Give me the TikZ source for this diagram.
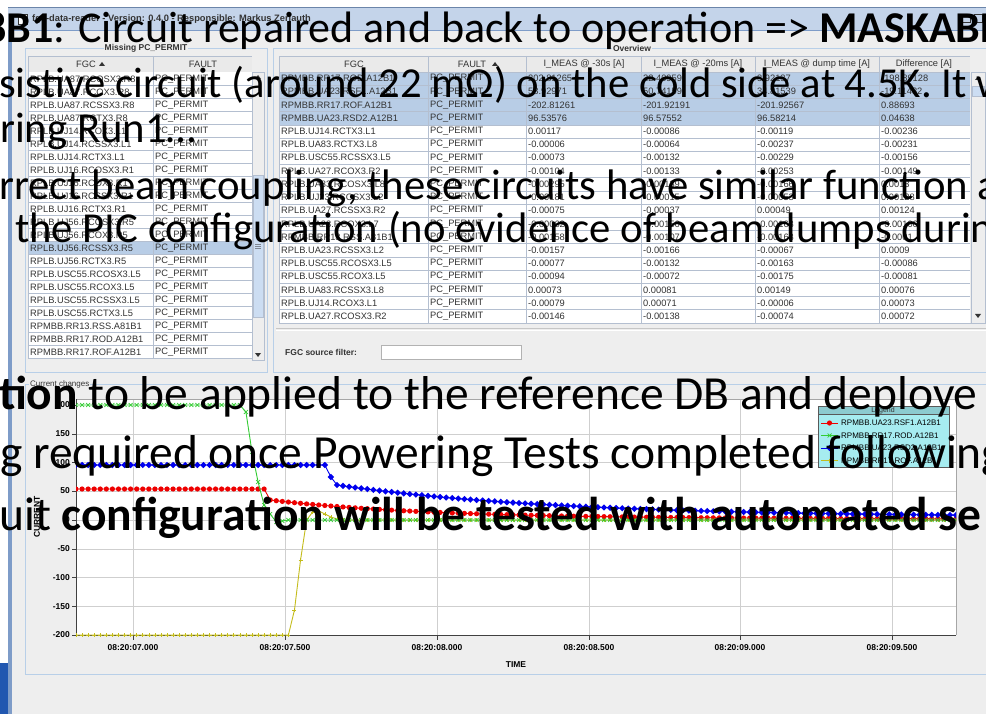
\documentclass[tikz,border=0pt]{standalone}
\usepackage{fontspec}
\setmainfont{Liberation Sans}
\newfontfamily\slidefont{Carlito}
\definecolor{panelbg}{HTML}{EEEEEE}
\definecolor{gridc}{HTML}{CFCFCF}
\definecolor{rowline}{HTML}{B4BFD0}
\definecolor{selrow}{HTML}{B8CDE6}
\definecolor{hdrbg}{HTML}{EAEAEA}
\definecolor{fsborder}{HTML}{B8CFE8}
\definecolor{titlebar}{HTML}{C4D4EA}
\definecolor{winborder}{HTML}{7E9CC8}
\definecolor{slideblue}{HTML}{2157B0}
\definecolor{legfill}{HTML}{A6ECF0}
\definecolor{leghead}{HTML}{8CCBD0}
\definecolor{txtc}{HTML}{333333}
\definecolor{redS}{HTML}{EE0000}
\definecolor{greenS}{HTML}{33CC33}
\definecolor{blueS}{HTML}{0000EE}
\definecolor{yellowS}{HTML}{C4BC1C}
\definecolor{thumbc}{HTML}{CCDDF2}
\tikzset{
  cell/.style={anchor=west, inner sep=0pt, font=\fontsize{9.3}{10}\selectfont, text=txtc},
  hdr/.style={anchor=center, inner sep=0pt, font=\fontsize{9.3}{10}\selectfont, text=txtc},
  fstitle/.style={inner sep=1pt, fill=panelbg, font=\bfseries\fontsize{8.5}{9}\selectfont, text=txtc},
  ticklab/.style={inner sep=0pt, font=\bfseries\fontsize{8.5}{9}\selectfont, text=black},
  leglab/.style={anchor=west, inner sep=0pt, font=\fontsize{8}{9}\selectfont, text=black},
  big/.style={anchor=base west, inner sep=0pt, text=black},
  serie/.style={line width=0.9pt, line join=round},
}
\newcommand{\slA}{\slidefont\fontsize{44}{44}\selectfont}
\newcommand{\slB}{\slidefont\fontsize{42.7}{43}\selectfont}
\newcommand{\slC}{\slidefont\fontsize{47.5}{48}\selectfont}
\begin{document}
\begin{tikzpicture}[x=1pt,y=-1pt,
  declare function={
    sx(\n)=76+6.069*\n;
    gr(\n)=(\n<28)*405+(\n==28)*412+(\n==29)*452+(\n==30)*482+(\n==31)*505+(\n==32)*514+(\n==33)*522+(\n==34)*521+(\n>34)*520;
    rd(\n)=(\n<32)*489+(\n>31)*(500+19*(1-exp(-(sx(\n)-270)/160)));
    bl(\n)=(\n<42)*465+(\n==42)*477+(\n>42)*(485+32*(1-exp(-(sx(\n)-337)/220)));
    yl(\n)=(\n<36)*635+(\n==36)*610+(\n==37)*560+(\n==38)*520+(\n==39)*512+(\n==40)*511+(\n==41)*514+(\n==42)*517+(\n==43)*519+(\n>43)*520;
  }]
\useasboundingbox (0,0) rectangle (986,714);
\clip (0,0) rectangle (986,714);
% ---------- background / window ----------
\fill[white] (0,0) rectangle (986,714);
\fill[panelbg] (12,30) rectangle (986,714);
\fill[slideblue] (0,663) rectangle (8,714);
\fill[winborder] (8,7) rectangle (12,714);
\fill[titlebar] (8,7) rectangle (986,31);
\draw[winborder!85!black] (8,7.5) -- (986,7.5);
\draw[winborder] (8,30.5) -- (986,30.5);
\draw[txtc, fill=white] (18,14) rectangle (27,24);
\node[anchor=west, inner sep=0pt, font=\bfseries\fontsize{9.3}{10}\selectfont, text=txtc] (wtitle) at (32,19)
  {fgc-data-reader - Version: 0.4.0 - Responsible: Markus Zerlauth};
\draw[txtc] (962,14) rectangle (970,22);
\draw[txtc] (974,14) rectangle (982,22);

% ---------- left panel ----------
\draw[fsborder] (25,48) rectangle (267,372);
\node[fstitle] (ltitle) at (146,48) {Missing PC\_PERMIT};
\fill[hdrbg] (28,56) rectangle (252,72);
\draw[rowline] (28,56) rectangle (252,72) (153,56) -- (153,72);
\node[hdr] (lh1) at (86,64) {FGC};
\fill[txtc] (99,66) -- (105,66) -- (102,62) -- cycle;
\node[hdr] (lh2) at (203,64) {FAULT};
\fill[white] (28,72) rectangle (252,358);
\fill[selrow] (28,241) rectangle (252,254);
\begin{scope}
\clip (28,72) rectangle (252,358);
\foreach \f [count=\i] in {RPLB.UA87.RCOSX3.R8, RPLB.UA87.RCOX3.R8, RPLB.UA87.RCSSX3.R8, RPLB.UA87.RCTX3.R8, RPLB.UJ14.RCOX3.L1, RPLB.UJ14.RCSSX3.L1, RPLB.UJ14.RCTX3.L1, RPLB.UJ16.RCOSX3.R1, RPLB.UJ16.RCOX3.R1, RPLB.UJ16.RCSSX3.R1, RPLB.UJ16.RCTX3.R1, RPLB.UJ56.RCOSX3.R5, RPLB.UJ56.RCOX3.R5, RPLB.UJ56.RCSSX3.R5, RPLB.UJ56.RCTX3.R5, RPLB.USC55.RCOSX3.L5, RPLB.USC55.RCOX3.L5, RPLB.USC55.RCSSX3.L5, RPLB.USC55.RCTX3.L5, RPMBB.RR13.RSS.A81B1, RPMBB.RR17.ROD.A12B1, RPMBB.RR17.ROF.A12B1, RPMBB.UA23.RSD2.A12B1} {
  \node[cell] (lf\i) at (30,{79+13*(\i-1)}) {\f};
  \node[cell] (lp\i) at (155,{79+13*(\i-1)}) {PC\_PERMIT};
  \draw[rowline] (28,{72+13*\i}) -- (252,{72+13*\i});
}
\draw[rowline] (153,72) -- (153,358);
\end{scope}
\draw[rowline] (28,56) rectangle (252,358);
% left scrollbar
\fill[panelbg] (252,56) rectangle (264,360);
\draw[rowline] (252,72) rectangle (264,360);
\draw[rowline, fill=thumbc] (253,175) rectangle (263,317);
\draw[rowline!70!black] (255,244) -- (261,244) (255,246) -- (261,246) (255,248) -- (261,248);
\fill[txtc] (255,79) -- (261,79) -- (258,75) -- cycle;
\fill[txtc] (255,353) -- (261,353) -- (258,357) -- cycle;

% ---------- right panel ----------
\draw[fsborder] (273,48) rectangle (1000,372);
\node[fstitle] (rtitle) at (632,48) {Overview};
\fill[hdrbg] (279,56) rectangle (970,72);
\node[hdr] (rh1) at (354,64) {FGC};
\node[hdr] (rh2) at (472,64) {FAULT};
\fill[txtc] (492,66) -- (498,66) -- (495,62) -- cycle;
\node[hdr] (rh3) at (584,64) {I\_MEAS @ -30s [A]};
\node[hdr] (rh4) at (698,64) {I\_MEAS @ -20ms [A]};
\node[hdr] (rh5) at (817,64) {I\_MEAS @ dump time [A]};
\node[hdr] (rh6) at (924,64) {Difference [A]};
\fill[white] (279,72) rectangle (970,323);
\fill[selrow] (279,72) rectangle (970,124.8);
\foreach \f/\a/\b/\c/\d [count=\i] in {
 RPMBB.RR17.ROD.A12B1/202.81265/22.40959/3.92137/-198.89128,
 RPMBB.UA23.RSF1.A12B1/53.92971/50.74159/34.81539/-19.11432,
 RPMBB.RR17.ROF.A12B1/-202.81261/-201.92191/-201.92567/0.88693,
 RPMBB.UA23.RSD2.A12B1/96.53576/96.57552/96.58214/0.04638,
 RPLB.UJ14.RCTX3.L1/0.00117/-0.00086/-0.00119/-0.00236,
 RPLB.UA83.RCTX3.L8/-0.00006/-0.00064/-0.00237/-0.00231,
 RPLB.USC55.RCSSX3.L5/-0.00073/-0.00132/-0.00229/-0.00156,
 RPLB.UA27.RCOX3.R2/-0.00104/-0.00133/-0.00253/-0.00149,
 RPLB.UA83.RCOSX3.L8/-0.00295/-0.00139/-0.00166/0.0013,
 RPLB.UJ23.RCOSX3.L2/-0.00181/-0.00015/-0.00053/0.00128,
 RPLB.UA27.RCSSX3.R2/-0.00075/-0.00037/0.00049/0.00124,
 RPLB.UA23.RCOX3.L7/-0.00062/-0.00156/-0.00168/-0.00106,
 RPMBB.RR13.RSS.A81B1/-0.00158/-0.00107/-0.00168/-0.0001,
 RPLB.UA23.RCSSX3.L2/-0.00157/-0.00166/-0.00067/0.0009,
 RPLB.USC55.RCOSX3.L5/-0.00077/-0.00132/-0.00163/-0.00086,
 RPLB.USC55.RCOX3.L5/-0.00094/-0.00072/-0.00175/-0.00081,
 RPLB.UA83.RCSSX3.L8/0.00073/0.00081/0.00149/0.00076,
 RPLB.UJ14.RCOX3.L1/-0.00079/0.00071/-0.00006/0.00073,
 RPLB.UA27.RCOSX3.R2/-0.00146/-0.00138/-0.00074/0.00072} {
  \node[cell] (rf\i) at (281,{78.6+13.2*(\i-1)}) {\f};
  \node[cell] (rp\i) at (430,{78.6+13.2*(\i-1)}) {PC\_PERMIT};
  \node[cell] (ra\i) at (528,{78.6+13.2*(\i-1)}) {\a};
  \node[cell] (rb\i) at (643,{78.6+13.2*(\i-1)}) {\b};
  \node[cell] (rc\i) at (757,{78.6+13.2*(\i-1)}) {\c};
  \node[cell] (rd\i) at (881,{78.6+13.2*(\i-1)}) {\d};
  \draw[rowline] (279,{72+13.2*\i}) -- (970,{72+13.2*\i});
}
\draw[rowline] (279,56) rectangle (970,323);
\foreach \c in {428,526,641,755,879} \draw[rowline] (\c,56) -- (\c,323);
\draw[rowline] (279,72) -- (970,72);
% right scrollbar
\fill[panelbg] (970,56) rectangle (986,323);
\draw[rowline] (971,72) rectangle (985,323);
\draw[rowline, fill=thumbc] (972,86) rectangle (984,96);
\fill[txtc] (975,80) -- (981,80) -- (978,76) -- cycle;
\fill[txtc] (975,314) -- (981,314) -- (978,318) -- cycle;
% separator and filter
\draw[gray!45] (276,328.5) -- (1000,328.5);
\draw[white] (276,330.5) -- (1000,330.5);
\node[anchor=west, inner sep=0pt, font=\bfseries\fontsize{8.5}{9}\selectfont, text=txtc] (flabel) at (285,352) {FGC source filter:};
\draw[gray!60, fill=white] (381,345) rectangle (521,359);

% ---------- chart panel ----------
\draw[fsborder] (25,384) rectangle (1000,674);
\node[anchor=west, inner sep=1pt, fill=panelbg, font=\fontsize{8}{9}\selectfont, text=txtc] (ctitle) at (29,384) {Current changes};
\fill[white] (76,399) rectangle (956,635);
\foreach \yy in {434,462.5,491,520,548.75,577.5,606.25} \draw[gridc] (76,\yy) -- (956,\yy);
\foreach \xx in {133,285,437,589,740,892} \draw[gridc] (\xx,399) -- (\xx,635);
\draw[gray!70] (76,399) -- (956,399) -- (956,635);
\draw[black!75] (76,399) -- (76,635) -- (956,635);
\foreach \v/\yy in {200/405,150/434,100/462.5,50/491,0/520,-50/548.75,-100/577.5,-150/606.25,-200/635} {
  \draw[black!75] (72,\yy) -- (76,\yy);
  \node[ticklab, anchor=east] (yl\v) at (70,\yy) {\v};
}
\foreach \t/\xx in {07.000/133,07.500/285,08.000/437,08.500/589,09.000/740,09.500/892} {
  \draw[black!75] (\xx,635) -- (\xx,640);
  \node[ticklab] (xl\xx) at (\xx,648) {08:20:\t};
}
\node[ticklab] (xaxis) at (516,665) {TIME};
\node[ticklab, rotate=90] (yaxis) at (37,517) {CURRENT};
% series
\begin{scope}
\clip (76,399) rectangle (956,636);
\draw[serie, yellowS] plot[domain=0:145, samples=146, variable=\k] ({sx(\k)},{yl(\k)});
\foreach \k in {0,...,145}
  \draw[yellowS, line width=0.6pt, shift={({sx(\k)},{yl(\k)})}] (-2,0) -- (2,0) (0,-2) -- (0,2);
\draw[serie, redS] plot[domain=0:145, samples=146, variable=\k] ({sx(\k)},{rd(\k)});
\foreach \k in {0,...,145}
  \fill[redS] ({sx(\k)},{rd(\k)}) circle (2.6pt);
\draw[serie, greenS] plot[domain=0:145, samples=146, variable=\k] ({sx(\k)},{gr(\k)});
\foreach \k in {0,...,145}
  \draw[greenS, line width=0.7pt, shift={({sx(\k)},{gr(\k)})}] (-2,-2) -- (2,2) (-2,2) -- (2,-2);
\draw[serie, blueS] plot[domain=0:145, samples=146, variable=\k] ({sx(\k)},{bl(\k)});
\foreach \k in {0,...,145}
  \fill[blueS, shift={({sx(\k)},{bl(\k)})}] (0,-3.2) -- (3.2,0) -- (0,3.2) -- (-3.2,0) -- cycle;
\end{scope}
% legend
\draw[gray!70!black, fill=legfill] (818,406) rectangle (949,467);
\fill[leghead] (818.5,406.5) rectangle (948.5,414);
\node[inner sep=0pt, font=\fontsize{7}{8}\selectfont, text=black!80] (legt) at (883,410.5) {Legend};
\draw[gray!70!black] (818,414) -- (949,414);
\draw[serie, redS] (821,423) -- (838,423); \fill[redS] (829.5,423) circle (2.6pt);
\node[leglab] (leg1) at (841,423) {RPMBB.UA23.RSF1.A12B1};
\draw[serie, greenS] (821,435.5) -- (838,435.5); \draw[greenS, line width=0.7pt] (827.5,433.5) -- (831.5,437.5) (827.5,437.5) -- (831.5,433.5);
\node[leglab] (leg2) at (841,435.5) {RPMBB.RR17.ROD.A12B1};
\draw[serie, blueS] (821,448) -- (838,448); \fill[blueS] (829.5,444.8) -- (832.7,448) -- (829.5,451.2) -- (826.3,448) -- cycle;
\node[leglab] (leg3) at (841,448) {RPMBB.UA23.RSD2.A12B1};
\draw[serie, yellowS] (821,460.5) -- (838,460.5); \draw[yellowS, line width=0.6pt] (827.5,460.5) -- (831.5,460.5) (829.5,458.5) -- (829.5,462.5);
\node[leglab] (leg4) at (841,460.5) {RPMBB.RR17.ROF.A12B1};

% ---------- slide text overlay ----------
\node[big, font=\slA] (s1) at (-16,43) {\bfseries 8B1\mdseries: Circuit repaired and back to operation => \bfseries MASKABLE};
\node[big, font=\slB] (s2) at (-1,98) {sistive circuit (around 22 m\char"03A9) on the cold side at 4.5K. It w};
\node[big, font=\slB] (s3) at (0,143) {ring Run1\ldots};
\node[big, font=\slB] (s4) at (-1,200) {rrect beam coupling, these circuits have similar function a};
\node[big, font=\slB] (s5) at (15,243) {the PIC configuration (no evidence of beam dumps during};
\node[big, font=\slC] (s6) at (-1,409) {\bfseries tion\mdseries{} to be applied to the reference DB and deploye};
\node[big, font=\slC] (s7) at (0,468) {g required once Powering Tests completed following};
\node[big, font=\slC] (s8) at (-1,530) {uit \bfseries configuration will be tested with automated se};
\end{tikzpicture}
\end{document}
